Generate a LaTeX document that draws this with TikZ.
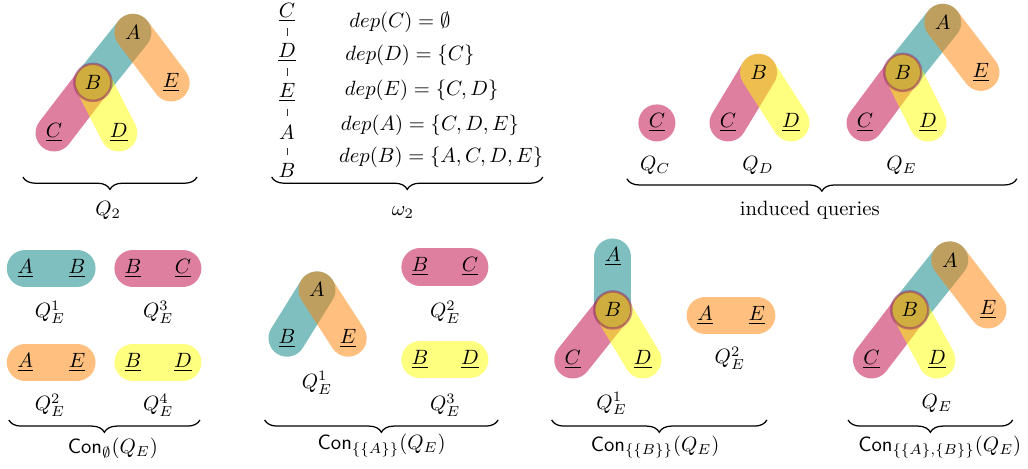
\documentclass[tikz,border=0pt]{standalone}
\usepackage{amsmath,amssymb,xcolor}
\definecolor{hteal}{RGB}{0,128,128}
\definecolor{hpurple}{RGB}{191,0,64}
\definecolor{horange}{RGB}{255,128,0}
\definecolor{hyellow}{RGB}{255,255,0}
\definecolor{hring}{RGB}{128,0,110}
\usetikzlibrary{backgrounds,calc,decorations.pathreplacing}
\newcommand{\uv}[1]{$\underline{#1}$}

\begin{document}
\begin{tikzpicture}[
        vtx/.style={inner sep=1pt},
        hub/.style={circle, inner sep=0pt, draw=hring, draw opacity=0.4, line width=1.2pt, minimum size=0.63cm},
        hedge/.style={line width=0.63cm, line cap=round, opacity=0.5},
        cvtx/.style={inner sep=1pt},
        tick/.style={line width=0.45pt, black!80},
        brc/.style={decorate, decoration={brace, mirror, amplitude=6pt}, semithick}
      ]
        \useasboundingbox (0,0) rectangle (17.48,7.96);

        % Q_2
        \node[vtx] (qa) at (2.26,7.41) {$A$};
        \node[hub] (qb) at (1.58,6.56) {$B$};
        \node[vtx] (qe) at (2.91,6.55) {\uv{E}};
        \node[vtx] (qc) at (0.92,5.70) {\uv{C}};
        \node[vtx] (qd) at (2.02,5.70) {\uv{D}};
        \begin{pgfonlayer}{background}
          \draw[hedge, hteal]   (qb.center) -- (qa.center);
          \draw[hedge, hpurple] (qc.center) -- (qb.center);
          \draw[hedge, hyellow] (qb.center) -- (qd.center);
          \draw[hedge, horange] (qa.center) -- (qe.center);
        \end{pgfonlayer}
        \draw[brc] (0.39,4.95) -- (3.35,4.95);
        \node (ql) at (1.84,4.39) {$Q_2$};

        % omega_2 order and dependencies
        \node[cvtx] (wc) at (4.88,7.75) {\uv{C}};
        \node[cvtx] (wd) at (4.88,7.07) {\uv{D}};
        \node[cvtx] (we) at (4.88,6.39) {\uv{E}};
        \node[cvtx] (wa) at (4.88,5.70) {$A$};
        \node[cvtx] (wb) at (4.88,5.07) {$B$};
        \draw[tick] ($(wc)!.40!(wd)$) -- ($(wc)!.58!(wd)$);
        \draw[tick] ($(wd)!.40!(we)$) -- ($(wd)!.58!(we)$);
        \draw[tick] ($(we)!.40!(wa)$) -- ($(we)!.58!(wa)$);
        \draw[tick] ($(wa)!.42!(wb)$) -- ($(wa)!.60!(wb)$);
        \node (depc) at (6.80,7.58) {$dep(C) = \emptyset$};
        \node (depd) at (6.97,7.02) {$dep(D) = \{C\}$};
        \node (depe) at (7.17,6.43) {$dep(E) = \{C, D\}$};
        \node (depa) at (7.31,5.83) {$dep(A) = \{C, D, E\}$};
        \node (depb) at (7.50,5.29) {$dep(B) = \{A, C, D, E\}$};
        \draw[brc] (4.62,4.95) -- (9.23,4.95);
        \node (wl) at (6.85,4.34) {$\omega_2$};

        % induced queries
        \node[vtx] (icc) at (11.17,5.87) {\uv{C}};
        \node (icl) at (11.14,5.15) {$Q_C$};
        \node[vtx] (idb) at (12.90,6.73) {$B$};
        \node[vtx] (idc) at (12.38,5.87) {\uv{C}};
        \node[vtx] (idd) at (13.45,5.87) {\uv{D}};
        \node (idl) at (12.89,5.15) {$Q_D$};
        \node[vtx] (iea) at (16.03,7.58) {$A$};
        \node[hub] (ieb) at (15.35,6.73) {$B$};
        \node[vtx] (iee) at (16.68,6.73) {\uv{E}};
        \node[vtx] (iec) at (14.71,5.87) {\uv{C}};
        \node[vtx] (ied) at (15.78,5.87) {\uv{D}};
        \node (iel) at (15.33,5.15) {$Q_E$};
        \begin{pgfonlayer}{background}
          \fill[hpurple, opacity=0.5] (icc) circle (0.315cm);
          \draw[hedge, hpurple] (idc.center) -- (idb.center);
          \draw[hedge, hyellow] (idb.center) -- (idd.center);
          \draw[hedge, hteal]   (ieb.center) -- (iea.center);
          \draw[hedge, hpurple] (iec.center) -- (ieb.center);
          \draw[hedge, hyellow] (ieb.center) -- (ied.center);
          \draw[hedge, horange] (iea.center) -- (iee.center);
        \end{pgfonlayer}
        \draw[brc] (10.66,4.92) -- (17.29,4.92);
        \node (il) at (13.77,4.39) {induced queries};

        % Con_empty
        \node[vtx] (p1a) at (0.43,3.40) {\uv{A}};
        \node[vtx] (p1b) at (1.31,3.40) {\uv{B}};
        \node[vtx] (p3b) at (2.26,3.40) {\uv{B}};
        \node[vtx] (p3c) at (3.11,3.40) {\uv{C}};
        \node[vtx] (p2a) at (0.43,1.80) {\uv{A}};
        \node[vtx] (p2e) at (1.31,1.80) {\uv{E}};
        \node[vtx] (p4b) at (2.26,1.80) {\uv{B}};
        \node[vtx] (p4d) at (3.11,1.80) {\uv{D}};
        \node (p1l) at (0.85,2.65) {$Q_E^1$};
        \node (p3l) at (2.69,2.65) {$Q_E^3$};
        \node (p2l) at (0.85,1.07) {$Q_E^2$};
        \node (p4l) at (2.69,1.07) {$Q_E^4$};
        \begin{pgfonlayer}{background}
          \draw[hedge, hteal]   (p1a.center) -- (p1b.center);
          \draw[hedge, hpurple] (p3b.center) -- (p3c.center);
          \draw[hedge, horange] (p2a.center) -- (p2e.center);
          \draw[hedge, hyellow] (p4b.center) -- (p4d.center);
        \end{pgfonlayer}
        \draw[brc] (0.15,0.82) -- (3.40,0.82);
        \node (pl) at (1.92,0.34) {$\mathsf{Con}_{\emptyset}(Q_E)$};

        % Con_{{A}}
        \node[vtx] (sa) at (5.39,3.03) {$A$};
        \node[vtx] (sb) at (4.88,2.21) {\uv{B}};
        \node[vtx] (se) at (5.92,2.21) {\uv{E}};
        \node (sl1) at (5.39,1.45) {$Q_E^1$};
        \node[vtx] (s2b) at (7.14,3.42) {\uv{B}};
        \node[vtx] (s2c) at (7.99,3.42) {\uv{C}};
        \node (sl2) at (7.57,2.65) {$Q_E^2$};
        \node[vtx] (s3b) at (7.14,1.84) {\uv{B}};
        \node[vtx] (s3d) at (7.99,1.84) {\uv{D}};
        \node (sl3) at (7.57,1.07) {$Q_E^3$};
        \begin{pgfonlayer}{background}
          \draw[hedge, hteal]   (sb.center) -- (sa.center);
          \draw[hedge, horange] (sa.center) -- (se.center);
          \draw[hedge, hpurple] (s2b.center) -- (s2c.center);
          \draw[hedge, hyellow] (s3b.center) -- (s3d.center);
        \end{pgfonlayer}
        \draw[brc] (4.50,0.82) -- (8.47,0.82);
        \node (sl) at (6.49,0.39) {$\mathsf{Con}_{\{\{A\}\}}(Q_E)$};

        % Con_{{B}}
        \node[vtx] (ta) at (10.42,3.59) {\uv{A}};
        \node[hub] (tb) at (10.42,2.69) {$B$};
        \node[vtx] (tc) at (9.74,1.84) {\uv{C}};
        \node[vtx] (td) at (10.93,1.84) {\uv{D}};
        \node (tl1) at (10.40,1.10) {$Q_E^1$};
        \node[vtx] (t2a) at (11.99,2.60) {\uv{A}};
        \node[vtx] (t2e) at (12.87,2.60) {\uv{E}};
        \node (tl2) at (12.41,1.87) {$Q_E^2$};
        \begin{pgfonlayer}{background}
          \draw[hedge, hteal]   (ta.center) -- (tb.center);
          \draw[hedge, hpurple] (tc.center) -- (tb.center);
          \draw[hedge, hyellow] (tb.center) -- (td.center);
          \draw[hedge, horange] (t2a.center) -- (t2e.center);
        \end{pgfonlayer}
        \draw[brc] (9.38,0.82) -- (13.04,0.82);
        \node (tl) at (11.14,0.36) {$\mathsf{Con}_{\{\{B\}\}}(Q_E)$};

        % Con_{{A},{B}}
        \node[vtx] (ua) at (16.15,3.54) {$A$};
        \node[hub] (ub) at (15.47,2.69) {$B$};
        \node[vtx] (ue) at (16.80,2.69) {\uv{E}};
        \node[vtx] (uc) at (14.82,1.84) {\uv{C}};
        \node[vtx] (ud) at (15.93,1.84) {\uv{D}};
        \node (ul1) at (15.93,1.10) {$Q_E$};
        \begin{pgfonlayer}{background}
          \draw[hedge, hteal]   (ub.center) -- (ua.center);
          \draw[hedge, hpurple] (uc.center) -- (ub.center);
          \draw[hedge, hyellow] (ub.center) -- (ud.center);
          \draw[hedge, horange] (ua.center) -- (ue.center);
        \end{pgfonlayer}
        \draw[brc] (14.42,0.82) -- (17.22,0.82);
        \node (ul) at (15.98,0.36) {$\mathsf{Con}_{\{\{A\},\{B\}\}}(Q_E)$};
      \end{tikzpicture}
\end{document}
